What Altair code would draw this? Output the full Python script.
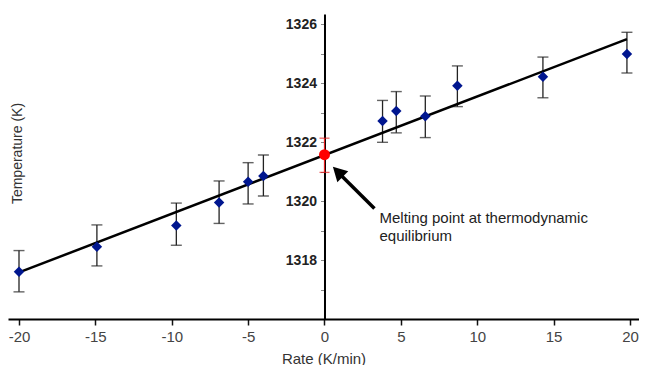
import altair as alt
import pandas as pd

# ---- data ----
rate = [-20.0, -14.9, -9.7, -6.9, -5.0, -4.0, 3.8, 4.7, 6.6, 8.7, 14.3, 19.8]
temp = [1317.60, 1318.45, 1319.17, 1319.95, 1320.65, 1320.85,
        1322.71, 1323.05, 1322.87, 1323.91, 1324.21, 1324.98]
temp_lo = [1316.92, 1317.80, 1318.50, 1319.24, 1319.90, 1320.17,
           1321.99, 1322.31, 1322.15, 1323.20, 1323.50, 1324.34]
temp_hi = [1318.32, 1319.19, 1319.93, 1320.68, 1321.30, 1321.56,
           1323.41, 1323.71, 1323.56, 1324.58, 1324.88, 1325.72]

eq_rate = [0.0]
eq_temp = [1321.57]
eq_lo = [1320.97]
eq_hi = [1322.13]

fit_rate = [-20.0, 19.8]
fit_temp = [1317.58, 1325.49]

x_ticks = [-20, -15, -10, -5, 0, 5, 10, 15, 20]
y_ticks = [1317, 1318, 1319, 1320, 1321, 1322, 1323, 1324, 1325, 1326]

annotation = "Melting point at thermodynamic\nequilibrium"

pts = pd.DataFrame({"rate": rate, "temp": temp, "lo": temp_lo, "hi": temp_hi})
eq = pd.DataFrame({"rate": eq_rate, "temp": eq_temp, "lo": eq_lo, "hi": eq_hi})
fit = pd.DataFrame({"rate": fit_rate, "temp": fit_temp})
one = pd.DataFrame({"a": [0]})

FONT = "Liberation Sans"
XMIN, XMAX = -20.72, 20.59
W, H = 631, 305
xs = alt.Scale(domain=[XMIN, XMAX], nice=False, zero=False)
ys = alt.Scale(domain=[1316, 1326.34], nice=False, zero=False)
zero_px = (0 - XMIN) / (XMAX - XMIN) * W

xax = alt.Axis(values=x_ticks, title="Rate (K/min)", labelExpr="'' + datum.value",
               domainColor="black", domainWidth=2, tickColor="#111", tickSize=6,
               tickWidth=1.5, labelFont=FONT, labelFontSize=15, labelColor="#444",
               labelPadding=4, titleFont=FONT, titleFontSize=15, titleFontWeight="normal",
               titleColor="#333", titleY=32, titleBaseline="top", grid=False)
yax = alt.Axis(values=y_ticks, format="d",
               labelExpr="datum.value % 2 == 0 ? datum.label : ''",
               offset=-zero_px, domainColor="black", domainWidth=2, tickColor="#888",
               tickSize=4, tickWidth=1, labelFont=FONT, labelFontWeight="bold",
               labelFontSize=14, labelColor="#222", labelPadding=4,
               title="Temperature (K)", titleFont=FONT, titleFontSize=14,
               titleFontWeight="normal", titleColor="#333", titleX=9 - zero_px, titleY=139,
               titleBaseline="middle", titleAngle=270, grid=False)


def X(f):
    return alt.X(f, type="quantitative", scale=xs, axis=xax)


def Y(f):
    return alt.Y(f, type="quantitative", scale=ys, axis=yax)


def XD(v):
    return alt.X(datum=v, type="quantitative", scale=xs, axis=xax)


def YD(v):
    return alt.Y(datum=v, type="quantitative", scale=ys, axis=yax)


err = alt.Chart(pts).mark_rule(color="#222", strokeWidth=1.3).encode(
    x=X("rate"), y=Y("lo"), y2="hi")
caps = alt.Chart(pts).transform_fold(["lo", "hi"], as_=["k", "v"]).mark_tick(
    orient="horizontal", size=11, thickness=1.4, color="#222").encode(
    x=X("rate"), y=Y("v:Q"))
line = alt.Chart(fit).mark_line(color="black", strokeWidth=2.5).encode(
    x=X("rate"), y=Y("temp"))
dots = alt.Chart(pts).mark_point(shape="diamond", filled=True, size=110,
                                 color="#00168f", opacity=1).encode(
    x=X("rate"), y=Y("temp"))

eq_err = alt.Chart(eq).mark_rule(color="#e52020", strokeWidth=1.2).encode(
    x=X("rate"), y=Y("lo"), y2="hi")
eq_caps = alt.Chart(eq).transform_fold(["lo", "hi"], as_=["k", "v"]).mark_tick(
    orient="horizontal", size=10, thickness=1.3, color="#e52020").encode(
    x=X("rate"), y=Y("v:Q"))
eq_dot = alt.Chart(eq).mark_point(shape="circle", filled=True, size=120,
                                  color="#ff0000", opacity=1).encode(
    x=X("rate"), y=Y("temp"))

# arrow annotation (placed in data coordinates)
shaft = alt.Chart(one).mark_rule(color="black", strokeWidth=3.5).encode(
    x=XD(3.27), y=YD(1319.75), x2=alt.X2(datum=0.9), y2=alt.Y2(datum=1320.97))
head = alt.Chart(one).mark_point(shape="M0,0L0.55,1L-0.55,1Z", filled=True, size=784,
                                 color="black", opacity=1, angle=315).encode(
    x=XD(0.55), y=YD(1321.16))
label = alt.Chart(one).mark_text(text=annotation, lineBreak="\n", lineHeight=18,
                                 align="left", baseline="top", font=FONT, fontSize=15,
                                 color="#222").encode(
    x=XD(3.6), y=YD(1319.66))

chart = alt.layer(err, caps, line, dots, eq_err, eq_caps, eq_dot, shaft, head, label).properties(
    width=W, height=H,
    padding={"left": 0, "top": 6, "right": 0, "bottom": 46},
    autosize=alt.AutoSizeParams(type="none"),
    background="white",
).configure_view(stroke=None)

chart.save("out.html", embed_options={"renderer": "svg", "actions": False})
